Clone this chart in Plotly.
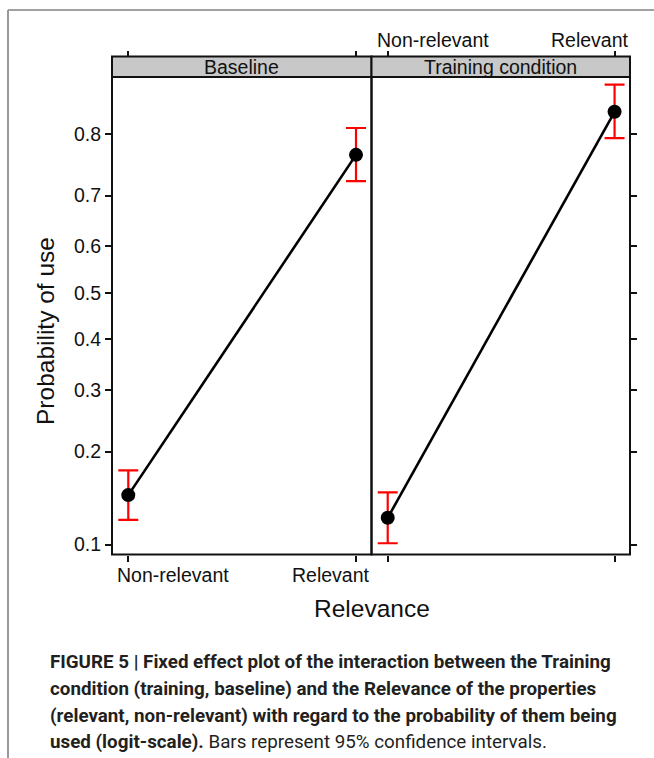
import numpy as np
import plotly.graph_objects as go

W, H = 654, 758

# ---- data (probabilities) ----
relevance = ["Non-relevant", "Relevant"]
panels = ["Baseline", "Training condition"]
baseline_fit = [0.146, 0.769]
baseline_lower = [0.121, 0.726]
baseline_upper = [0.175, 0.808]
training_fit = [0.123, 0.829]
training_lower = [0.101, 0.794]
training_upper = [0.149, 0.860]
y_ticks = [0.1, 0.2, 0.3, 0.4, 0.5, 0.6, 0.7, 0.8]
y_tick_labels = ["0.1", "0.2", "0.3", "0.4", "0.5", "0.6", "0.7", "0.8"]


def logit(p):
    p = np.asarray(p, dtype=float)
    return np.log(p / (1 - p))


def px(x):
    return x / W


def py(y):
    return 1 - y / H


# layout geometry (pixels)
L, MID, R = 112, 371.5, 630
TOP, BOT = 77, 554.5
STRIP_TOP = 56.5

YRANGE = [-2.2845, 1.8822]
XRANGE = [-0.0715, 1.068]
xpos = [0, 1]

fig = go.Figure()

series = [(baseline_fit, baseline_lower, baseline_upper, "x", "y"),
          (training_fit, training_lower, training_upper, "x2", "y2")]
for fit, lo, hi, xa, ya in series:
    yf = logit(fit)
    fig.add_trace(go.Scatter(
        x=xpos, y=yf, xaxis=xa, yaxis=ya, mode="lines+markers",
        line=dict(color="black", width=2.6),
        marker=dict(color="black", size=14),
        error_y=dict(type="data", symmetric=False,
                     array=logit(hi) - yf, arrayminus=yf - logit(lo),
                     color="#ff0000", thickness=2.2, width=10),
        showlegend=False, hoverinfo="skip"))

# invisible traces so the top tick axes are drawn
for xa, ya in [("x3", "y"), ("x4", "y2")]:
    fig.add_trace(go.Scatter(x=xpos, y=[None, None], xaxis=xa, yaxis=ya,
                             mode="markers", showlegend=False, hoverinfo="skip"))

FONT = "Liberation Sans, Arial, sans-serif"
tickfont = dict(family=FONT, size=19.5, color="#111")
common_x = dict(range=XRANGE, tickmode="array", tickvals=xpos, ticktext=relevance,
                showgrid=False, zeroline=False, showline=False, automargin=False,
                ticks="outside", ticklen=6, tickwidth=2, tickcolor="#111",
                tickfont=tickfont, fixedrange=True, showticklabels=False)
common_y = dict(range=YRANGE, tickmode="array", tickvals=list(logit(y_ticks)),
                ticktext=y_tick_labels, showgrid=False, zeroline=False, automargin=False,
                showline=False, ticks="outside", ticklen=6, tickwidth=2,
                tickcolor="#111", tickfont=tickfont, fixedrange=True,
                domain=[py(BOT), py(TOP)])

fig.update_layout(
    template="none",
    width=W, height=H, margin=dict(l=0, r=0, t=0, b=0, autoexpand=False),
    paper_bgcolor="white", plot_bgcolor="white",
    xaxis=dict(common_x, domain=[px(L), px(MID)], anchor="y", side="bottom"),
    xaxis2=dict(common_x, domain=[px(MID), px(R)], anchor="y2", side="bottom"),
    xaxis3=dict(common_x, domain=[px(L), px(MID)], anchor="free", overlaying="x",
                side="top", position=py(STRIP_TOP)),
    xaxis4=dict(common_x, domain=[px(MID), px(R)], anchor="free", overlaying="x2",
                side="top", position=py(STRIP_TOP)),
    yaxis=dict(common_y, anchor="x", side="left"),
    yaxis2=dict(common_y, anchor="x2", side="right", showticklabels=False),
)

shapes = []
# panel frames
for x0, x1 in [(L, MID), (MID, R)]:
    shapes.append(dict(type="rect", xref="paper", yref="paper",
                       x0=px(x0), x1=px(x1), y0=py(BOT), y1=py(TOP),
                       line=dict(color="#111", width=2), fillcolor="rgba(0,0,0,0)", layer="above"))
    shapes.append(dict(type="rect", xref="paper", yref="paper",
                       x0=px(x0), x1=px(x1), y0=py(TOP), y1=py(STRIP_TOP),
                       line=dict(color="#111", width=2), fillcolor="#c8c8c8", layer="below"))
# page frame (top and left)
shapes.append(dict(type="line", xref="paper", yref="paper", x0=px(8), x1=1,
                   y0=py(10), y1=py(10), line=dict(color="#444", width=1)))
shapes.append(dict(type="line", xref="paper", yref="paper", x0=px(8), x1=px(8),
                   y0=py(10), y1=0, line=dict(color="#999", width=2)))
fig.update_layout(shapes=shapes)

ann = []
# category labels (bottom of left panel, top of right panel), offset as in the original
label_shift = [45, -25]
for xref, ypix in [("x", 575), ("x2", 40)]:
    for xv, lab, sh in zip(xpos, relevance, label_shift):
        ann.append(dict(text=lab, x=xv, xref=xref, y=py(ypix), yref="paper",
                        xshift=sh, showarrow=False, xanchor="center", yanchor="middle",
                        font=tickfont))
for name, (x0, x1) in zip(panels, [(L, MID), (MID, R)]):
    ann.append(dict(text=name, x=px((x0 + x1) / 2), y=py((TOP + STRIP_TOP) / 2),
                    xref="paper", yref="paper", showarrow=False,
                    xanchor="center", yanchor="middle",
                    font=dict(family=FONT, size=19.5, color="#111")))
ann.append(dict(text="Relevance", x=px(372), y=py(608), xref="paper", yref="paper",
                showarrow=False, xanchor="center", yanchor="middle",
                font=dict(family=FONT, size=24.5, color="#111")))
ann.append(dict(text="Probability of use", x=px(45), y=py(331), xref="paper", yref="paper",
                showarrow=False, xanchor="center", yanchor="middle", textangle=-90,
                font=dict(family=FONT, size=24.5, color="#111")))

caption_lines = [
    "<b>FIGURE 5 | Fixed effect plot of the interaction between the Training</b>",
    "<b>condition (training, baseline) and the Relevance of the properties</b>",
    "<b>(relevant, non-relevant) with regard to the probability of them being</b>",
    "<b>used (logit-scale).</b> Bars represent 95% confidence intervals.",
]
cap_y = [662, 689, 716, 742]
for line, yy in zip(caption_lines, cap_y):
    ann.append(dict(text=line, x=px(48), y=py(yy), xref="paper", yref="paper",
                    showarrow=False, xanchor="left", yanchor="middle", align="left",
                    font=dict(family="Roboto, sans-serif", size=18.8, color="#231f20")))
fig.update_layout(annotations=ann)

fig.write_html("out.html")
